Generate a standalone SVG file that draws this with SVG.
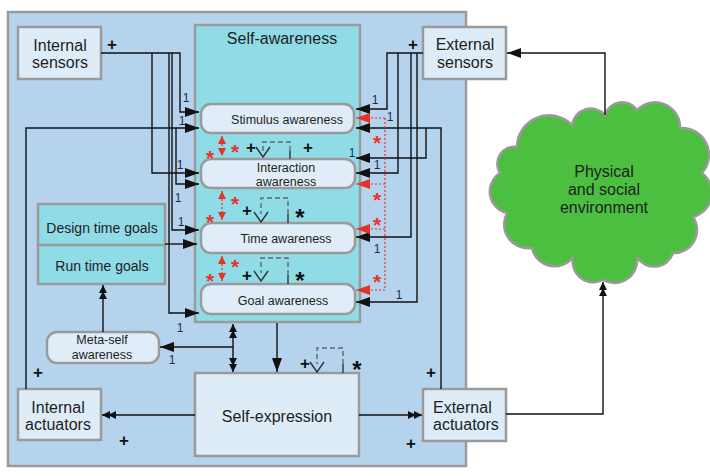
<svg xmlns="http://www.w3.org/2000/svg" width="710" height="476" viewBox="0 0 710 476">
<defs>
<style>
.t{font-family:"Liberation Sans",Arial,Helvetica,sans-serif;fill:#1e1e1e}
.c{text-anchor:middle}
.box{fill:#deecf8;stroke:#9a9a9a;stroke-width:2.5}
.aw{fill:#e0edf8;stroke:#9a9a9a;stroke-width:2.5}
.ln{fill:none;stroke:#111;stroke-width:1.4}
.rd{fill:none;stroke:#e6332a;stroke-width:1.2;stroke-dasharray:2 2}
.one{font-size:12px;fill:#1b2a55;text-anchor:middle}
.plus{font-size:17px;font-weight:bold;text-anchor:middle;fill:#111}
.rs{font-size:21px;font-weight:bold;fill:#e6332a;text-anchor:middle}
.bs{font-size:24px;font-weight:bold;fill:#111;text-anchor:middle}
.loopd{fill:none;stroke:#666;stroke-width:1.4;stroke-dasharray:5 3}
.loopv{fill:none;stroke:#333;stroke-width:1.4}
</style>
<marker id="ah" viewBox="0 0 14 10" markerUnits="userSpaceOnUse" markerWidth="14" markerHeight="10" refX="14" refY="5" orient="auto"><path d="M0,0 L14,5 L0,10 z" fill="#111"/></marker>
<marker id="ahr" viewBox="0 0 14 10" markerUnits="userSpaceOnUse" markerWidth="14" markerHeight="10" refX="14" refY="5" orient="auto"><path d="M0,0 L14,5 L0,10 z" fill="#e6332a"/></marker>
<marker id="rsm" viewBox="0 0 8 8" markerUnits="userSpaceOnUse" markerWidth="8" markerHeight="8" refX="8" refY="4" orient="auto-start-reverse"><path d="M0,0 L8,4 L0,8 z" fill="#e6332a"/></marker>
<marker id="dbl" viewBox="0 0 14 8" markerUnits="userSpaceOnUse" markerWidth="14" markerHeight="8" refX="14" refY="4" orient="auto-start-reverse"><path d="M0,0 L8,4 L0,8 z M6,0 L14,4 L6,8 z" fill="#111"/></marker>
</defs>
<rect x="0" y="0" width="710" height="476" fill="#ffffff"/>
<g id="system">
<rect x="8" y="12" width="458" height="454" fill="#b6d3ee" stroke="#9a9a9a" stroke-width="2.5"/>
</g>
<g id="self-awareness">
<rect x="195" y="25" width="165" height="297" fill="#8fdbe6" stroke="#9a9a9a" stroke-width="2.5"/>
<text class="t c" x="282" y="44" font-size="16">Self-awareness</text>
</g>
<g id="stimulus-awareness">
<rect class="aw" x="201" y="104" width="153" height="29" rx="10"/>
<text class="t c" x="287" y="124" font-size="12.5">Stimulus awareness</text>
</g>
<g id="interaction-awareness">
<rect class="aw" x="201" y="159" width="154" height="29" rx="10"/>
<text class="t c" x="286" y="172" font-size="12.5">Interaction</text>
<text class="t c" x="286" y="186" font-size="12.5">awareness</text>
</g>
<g id="time-awareness">
<rect class="aw" x="201" y="223" width="154" height="30" rx="10"/>
<text class="t c" x="286" y="243" font-size="12.5">Time awareness</text>
</g>
<g id="goal-awareness">
<rect class="aw" x="201" y="284" width="154" height="30" rx="10"/>
<text class="t c" x="283" y="305" font-size="12.5">Goal awareness</text>
</g>
<g id="internal-sensors">
<rect class="box" x="18" y="27" width="83" height="52"/>
<text class="t c" x="60" y="51" font-size="16">Internal</text>
<text class="t c" x="60" y="68" font-size="16">sensors</text>
</g>
<g id="external-sensors">
<rect class="box" x="423" y="27" width="83" height="52"/>
<text class="t c" x="465" y="50" font-size="16">External</text>
<text class="t c" x="465" y="68" font-size="16">sensors</text>
</g>
<g id="goals">
<rect x="38" y="204" width="127" height="80" fill="#8fdbe6" stroke="#9a9a9a" stroke-width="2.5"/>
<line x1="38" y1="245" x2="165" y2="245" stroke="#9a9a9a" stroke-width="2.5"/>
<text class="t c" x="102" y="233" font-size="14">Design time goals</text>
<text class="t c" x="102" y="271" font-size="14">Run time goals</text>
</g>
<g id="meta-self-awareness">
<rect class="aw" x="47" y="332" width="112" height="31" rx="10"/>
<text class="t c" x="102" y="344" font-size="12.5">Meta-self</text>
<text class="t c" x="102" y="359" font-size="12.5">awareness</text>
</g>
<g id="self-expression">
<rect class="box" x="195" y="373" width="164" height="83"/>
<text class="t c" x="277" y="422" font-size="16">Self-expression</text>
</g>
<g id="internal-actuators">
<rect class="box" x="18" y="389" width="83" height="51"/>
<text class="t c" x="58" y="413" font-size="16">Internal</text>
<text class="t c" x="58" y="430" font-size="16">actuators</text>
</g>
<g id="external-actuators">
<rect class="box" x="423" y="389" width="83" height="52"/>
<text class="t" x="433" y="413" font-size="16">External</text>
<text class="t" x="433" y="430" font-size="16">actuators</text>
</g>
<g id="environment">
<path d="M517,147 A32,32 0 0 1 572,125 A19,19 0 0 1 605,115 A18,18 0 0 1 637,110 A25,25 0 0 1 680,128 A27,27 0 0 1 702,173 A25,25 0 0 1 693,217 A23,23 0 0 1 673,253 A20,20 0 0 1 637,257 A23,23 0 0 1 603,280 A21,21 0 0 1 573,257 A23,23 0 0 1 532,248 A24,24 0 0 1 507,213 A22,22 0 0 1 500,173 A17,17 0 0 1 517,147 Z" fill="#4cbf40" stroke="#9a9a9a" stroke-width="2.5"/>
<text class="t c" x="604" y="177" font-size="16">Physical</text>
<text class="t c" x="604" y="195" font-size="16">and social</text>
<text class="t c" x="604" y="213" font-size="16">environment</text>
</g>
<g id="connectors">
<path class="ln" d="M101,53 H180 V112 H199" marker-end="url(#ah)"/>
<path class="ln" d="M152,53 V173 H199" marker-end="url(#ah)"/>
<path class="ln" d="M172,53 V230 H199" marker-end="url(#ah)"/>
<path class="ln" d="M169,53 V313 H199" marker-end="url(#ah)"/>
<path class="ln" d="M26,389 V128 H199" marker-end="url(#ah)"/>
<path class="ln" d="M176,128 V184 H199" marker-end="url(#ah)"/>
<path class="ln" d="M165,244 H197" marker-end="url(#ah)"/>
<path class="ln" d="M423,53 H387 V109 H356" marker-end="url(#ah)"/>
<path class="ln" d="M398,53 V173 H356" marker-end="url(#ah)"/>
<path class="ln" d="M411,53 V237 H356" marker-end="url(#ah)"/>
<path class="ln" d="M417,53 V302 H356" marker-end="url(#ah)"/>
<path class="ln" d="M441,389 V128 H356" marker-end="url(#ah)"/>
<path class="ln" d="M426,128 V158 H356" marker-end="url(#ah)"/>
<path class="rd" d="M385,118 V290"/>
<path class="rd" d="M385,118 H356" marker-end="url(#ahr)"/>
<path class="rd" d="M385,184 H356" marker-end="url(#ahr)"/>
<path class="rd" d="M385,229 H356" marker-end="url(#ahr)"/>
<path class="rd" d="M385,290 H356" marker-end="url(#ahr)"/>
<path class="rd" d="M222,136 V156" marker-start="url(#rsm)" marker-end="url(#rsm)"/>
<path class="rd" d="M222,191 V220" marker-start="url(#rsm)" marker-end="url(#rsm)"/>
<path class="rd" d="M222,256 V281" marker-start="url(#rsm)" marker-end="url(#rsm)"/>
<path class="ln" d="M233,347 H160" marker-end="url(#ah)"/>
<path class="ln" d="M233,324 V372" marker-start="url(#dbl)" marker-end="url(#dbl)"/>
<path class="ln" d="M277,323 V372" marker-end="url(#ah)"/>
<path class="ln" d="M103,332 V285" marker-end="url(#dbl)"/>
<path class="ln" d="M195,415 H102" marker-end="url(#dbl)"/>
<path class="ln" d="M359,415 H422" marker-end="url(#dbl)"/>
<path class="ln" d="M506,414 H603 V282" marker-end="url(#dbl)"/>
<path class="ln" d="M605,115 V53 H507" marker-end="url(#ah)"/>
<path class="loopd" d="M290,151 V142 H263 V151"/>
<path class="loopv" d="M290,159 V151 M256,147 L263,157 L270,147"/>
<path class="loopd" d="M288,214 V198 H261 V214"/>
<path class="loopv" d="M288,223 V214 M254,212 L261,222 L268,212"/>
<path class="loopd" d="M288,275 V258 H261 V273"/>
<path class="loopv" d="M288,284 V275 M254,271 L261,281 L268,271"/>
<path class="loopd" d="M343,364 V348 H317 V364"/>
<path class="loopv" d="M343,373 V364 M310,362 L317,372 L324,362"/>
</g>
<g id="labels">
<text class="t one" x="186" y="102">1</text>
<text class="t one" x="182" y="125">1</text>
<text class="t one" x="180" y="169">1</text>
<text class="t one" x="178" y="202">1</text>
<text class="t one" x="181" y="226">1</text>
<text class="t one" x="180" y="332">1</text>
<text class="t one" x="172" y="364">1</text>
<text class="t one" x="375" y="104">1</text>
<text class="t one" x="390" y="121">1</text>
<text class="t one" x="352" y="157">1</text>
<text class="t one" x="377" y="169">1</text>
<text class="t one" x="377" y="253">1</text>
<text class="t one" x="399" y="299">1</text>
<text class="t plus" x="112" y="50">+</text>
<text class="t plus" x="413" y="50">+</text>
<text class="t plus" x="38" y="378">+</text>
<text class="t plus" x="124" y="446">+</text>
<text class="t plus" x="431" y="378">+</text>
<text class="t plus" x="411" y="449">+</text>
<text class="t plus" x="251" y="153">+</text>
<text class="t plus" x="308" y="153">+</text>
<text class="t plus" x="247" y="216">+</text>
<text class="t plus" x="247" y="281">+</text>
<text class="t plus" x="305" y="369">+</text>
<text class="t bs" x="300" y="226">*</text>
<text class="t bs" x="300" y="289">*</text>
<text class="t bs" x="357" y="378">*</text>
<text class="t rs" x="210" y="165">*</text>
<text class="t rs" x="235" y="159">*</text>
<text class="t rs" x="210" y="229">*</text>
<text class="t rs" x="235" y="211">*</text>
<text class="t rs" x="210" y="288">*</text>
<text class="t rs" x="235" y="274">*</text>
<text class="t rs" x="377" y="150">*</text>
<text class="t rs" x="377" y="207">*</text>
<text class="t rs" x="377" y="232">*</text>
<text class="t rs" x="377" y="289">*</text>
</g>
</svg>
